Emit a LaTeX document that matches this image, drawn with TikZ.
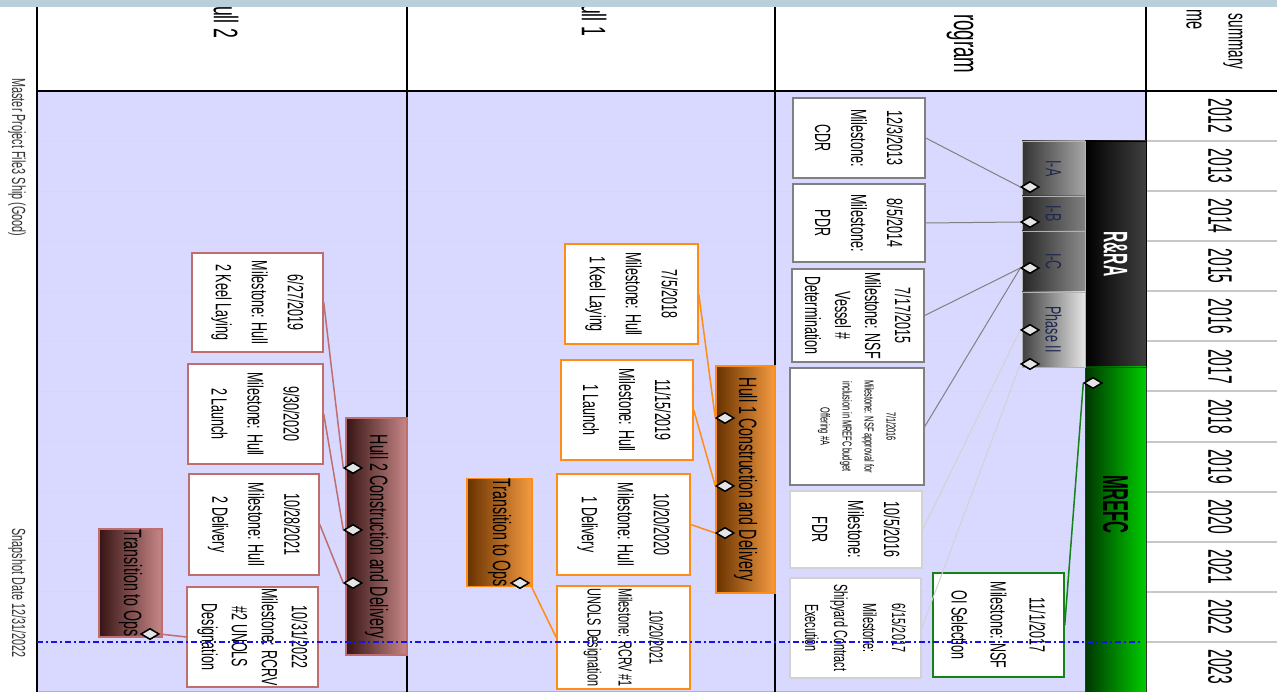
\documentclass[tikz,border=0pt]{standalone}
\usepackage{fontspec}
\setmainfont[FakeStretch=0.57]{Liberation Sans}
\newfontfamily\yearfont[FakeStretch=0.46]{Liberation Sans}
\newfontfamily\headfont[FakeStretch=0.52]{Liberation Sans}
\usetikzlibrary{positioning}
\usetikzlibrary{shapes.geometric}

\definecolor{lavender}{RGB}{217,217,255}
\definecolor{topband}{RGB}{185,208,218}
\definecolor{gridtan}{RGB}{222,218,205}
\definecolor{yeargrid}{RGB}{200,200,200}
\definecolor{hullorange}{RGB}{255,140,20}
\definecolor{hullrose}{RGB}{190,110,110}
\definecolor{msgreen}{RGB}{20,130,20}
\definecolor{labelnavy}{RGB}{30,40,80}
\definecolor{snapblue}{RGB}{20,20,230}

\tikzset{
  pagesize/.style 2 args={minimum height=#1pt, minimum width=#2pt},
  msbox/.style={draw=gray, fill=white, line width=1.5pt, rotate=-90, align=center,
    inner sep=0pt, font=\fontsize{22}{36}\selectfont},
  fourline/.style={font=\fontsize{22}{30}\selectfont},
  bar/.style={draw, rotate=-90, inner sep=0pt, font=\fontsize{25}{30}\selectfont},
  phasebar/.style={bar, draw=gray!60, line width=0.8pt, text=labelnavy,
    font=\fontsize{22}{26}\selectfont},
  hull1shade/.style={bar, draw=hullorange, line width=1.5pt,
    left color={rgb,255:red,105;green,50;blue,0}, right color={rgb,255:red,245;green,155;blue,65}},
  hull2shade/.style={bar, draw=hullrose, line width=1.5pt,
    left color={rgb,255:red,55;green,20;blue,20}, right color={rgb,255:red,200;green,135;blue,135}},
  msdia/.style={diamond, draw=black, fill=gray!20, line width=1.4pt,
    minimum width=18pt, minimum height=11pt, inner sep=0pt},
  yearlbl/.style={rotate=-90, font=\yearfont\fontsize{34}{34}\selectfont},
  headtxt/.style={rotate=-90, anchor=east, font=\headfont\fontsize{34}{34}\selectfont},
  sidetxt/.style={rotate=-90, anchor=west, text=black!80, font=\fontsize{19}{19}\selectfont},
  link/.style={draw=gray, line width=1pt},
}

\begin{document}
\begin{tikzpicture}[x=1pt, y=-1pt]
\useasboundingbox (0,0) rectangle (1277,692);

% Background
\fill[white] (0,0) rectangle (1277,692);
\fill[lavender] (37,91) rectangle (1146,692);

% Grid lines
\foreach \i in {1,...,11} {
  \draw[gridtan, line width=1pt] (37,{91+50.08*\i}) -- (1146,{91+50.08*\i});
  \draw[yeargrid, line width=2pt] (1146,{91+50.08*\i}) -- (1277,{91+50.08*\i});
}
\draw[gray!60, line width=1pt] (37,691) -- (1146,691);

% Columns
\foreach \cx in {37,407,775,1146}
  \draw[line width=2pt] (\cx,7) -- (\cx,692);
\draw[line width=2pt] (37,91) -- (1277,91);

% Headers
\node[headtxt] (hdrhull2) at (226,42) {ull 2};
\node[headtxt] (hdrhull1) at (594,40) {ull 1};
\node[headtxt, font=\headfont\fontsize{36}{36}\selectfont] (hdrprog) at (960,77) {rogram};
\node[headtxt, font=\headfont\fontsize{26}{26}\selectfont] (hdrsum) at (1233,73) {summary};
\node[headtxt, font=\headfont\fontsize{28}{28}\selectfont] (hdrtime) at (1194,33) {me};

% Side texts
\node[sidetxt] (projname) at (17,75) {Master Project File3 Ship (Good)};
\node[sidetxt] (snapdate) at (17,525) {Snapshot Date 12/31/2022};

% Years
\foreach \yr [count=\i from 0] in {2012,...,2023}
  \node[yearlbl] (yr\yr) at (1220,{116+50.08*\i}) {\yr};

% Program bars
\node[bar, pagesize={61}{226}, draw=black, text=white, font=\yearfont\bfseries\fontsize{34}{34}\selectfont,
  left color=black, right color=black!75] (rra) at (1115.5,254) {R\&RA};
\node[bar, pagesize={61}{325}, draw=black!80, font=\yearfont\bfseries\fontsize{36}{36}\selectfont,
  left color={rgb,255:red,0;green,55;blue,0}, right color={rgb,255:red,0;green,205;blue,0}] (mrefc) at (1115.5,529.5)
  {MREFC\hspace*{50pt}};
\node[phasebar, pagesize={63}{55}, left color=black!80, right color=black!35] (ia) at (1053.5,168.5) {I-A};
\node[phasebar, pagesize={63}{35}, left color=black!85, right color=black!50] (ib) at (1053.5,213.5) {I-B};
\node[phasebar, pagesize={63}{61}, left color=black!85, right color=black!45] (ic) at (1053.5,261.5) {I-C};
\node[phasebar, pagesize={63}{75}, left color=black!75, right color=black!10] (ph2) at (1053.5,329.5) {Phase II};

% Hull bars
\node[hull1shade, pagesize={59}{227}] (hull1bar) at (745.5,479.5) {Hull 1 Construction and Delivery};
\node[hull1shade, pagesize={65}{101}] (hull1ops) at (499.5,532.5) {Transition to Ops};
\node[hull2shade, pagesize={61}{237}] (hull2bar) at (376.5,536.5) {Hull 2 Construction and Delivery};
\node[hull2shade, pagesize={63}{102}] (hull2ops) at (130.5,583) {Transition to Ops};

% Program milestones
\node[msbox, pagesize={132}{80}] (cdr) at (859,138) {12/3/2013\\Milestone:\\CDR};
\node[msbox, pagesize={132}{78}] (pdr) at (859,223) {8/5/2014\\Milestone:\\PDR};
\node[msbox, fourline, pagesize={132}{93}] (vessel) at (858,315.5) {7/17/2015\\Milestone: NSF\\Vessel \#\\Determination};
\node[msbox, pagesize={134}{117}, font=\fontsize{13}{22}\selectfont] (budget) at (857,426.5)
  {7/1/2016\\Milestone: NSF approval for\\inclusion in MREFC budget\\Offering \#A};
\node[msbox, draw=gray!35, pagesize={132}{77}] (fdr) at (856,529.5) {10/5/2016\\Milestone:\\FDR};
\node[msbox, draw=gray!35, pagesize={131}{100}, font=\fontsize{19}{29}\selectfont] (yard) at (855.5,628)
  {6/15/2017\\Milestone:\\Shipyard Contract\\Execution};
\node[msbox, draw=msgreen, pagesize={131}{104}, font=\fontsize{22}{39}\selectfont] (oisel) at (998.5,625)
  {11/1/2017\\Milestone: NSF\\OI Selection};

% Hull 1 milestones
\node[msbox, draw=hullorange, pagesize={133}{100}] (hull1keel) at (631.5,294) {7/5/2018\\Milestone: Hull\\1 Keel Laying};
\node[msbox, draw=hullorange, pagesize={132}{100}] (hull1launch) at (627,410) {11/15/2019\\Milestone: Hull\\1 Launch};
\node[msbox, draw=hullorange, pagesize={133}{101}] (hull1deliv) at (623.5,524.5) {10/20/2020\\Milestone: Hull\\1 Delivery};
\node[msbox, draw=hullorange, pagesize={133}{103}, font=\fontsize{19}{31}\selectfont] (hull1unols) at (623.5,637.5)
  {10/20/2021\\Milestone: RCRV \#1\\UNOLS Designation};

% Hull 2 milestones
\node[msbox, draw=hullrose, pagesize={131}{99}] (hull2keel) at (257.5,302.5) {6/27/2019\\Milestone: Hull\\2 Keel Laying};
\node[msbox, draw=hullrose, pagesize={135}{100}] (hull2launch) at (255.5,414) {9/30/2020\\Milestone: Hull\\2 Launch};
\node[msbox, draw=hullrose, pagesize={130}{101}] (hull2deliv) at (254,524.5) {10/28/2021\\Milestone: Hull\\2 Delivery};
\node[msbox, fourline, draw=hullrose, pagesize={131}{100}] (hull2unols) at (252.5,637)
  {10/31/2022\\Milestone: RCRV\\\#2 UNOLS\\Designation};

% Diamonds
\node[msdia] (dIA) at (1030,187) {};
\node[msdia] (dIB) at (1030,222) {};
\node[msdia] (dIC) at (1030,268) {};
\node[msdia] (dPa) at (1030,330) {};
\node[msdia] (dPb) at (1030,364) {};
\node[msdia] (dM) at (1093,383) {};
\node[msdia] (dH1a) at (725,418) {};
\node[msdia] (dH1b) at (725,486) {};
\node[msdia] (dH1c) at (725,533) {};
\node[msdia] (dH1o) at (520,583) {};
\node[msdia] (dH2a) at (353,468) {};
\node[msdia] (dH2b) at (353,530) {};
\node[msdia] (dH2c) at (353,583) {};
\node[msdia] (dH2o) at (150,634) {};

% Connectors
\draw[link] (cdr.north) -- (dIA.west);
\draw[link] (pdr.north) -- (dIB.west);
\draw[link] (vessel.north) -- (dIC.west);
\draw[link] (budget.north) -- (dIC.west);
\draw[link, draw=gray!35] (fdr.north) -- (dPa.west);
\draw[link, draw=gray!35] (yard.north) -- (dPb.west);
\draw[link, draw=msgreen, line width=1.5pt] (oisel.north) -- (dM.west);
\draw[link, draw=hullorange, line width=1.5pt] (hull1keel.north) -- (dH1a.west);
\draw[link, draw=hullorange, line width=1.5pt] (hull1launch.north) -- (dH1b.west);
\draw[link, draw=hullorange, line width=1.5pt] (hull1deliv.north) -- (dH1c.west);
\draw[link, draw=hullorange, line width=1.5pt] (dH1o.east) -- (hull1unols.south);
\draw[link, draw=hullrose, line width=1.5pt] (hull2keel.north) -- (dH2a.west);
\draw[link, draw=hullrose, line width=1.5pt] (hull2launch.north) -- (dH2b.west);
\draw[link, draw=hullrose, line width=1.5pt] (hull2deliv.north) -- (dH2c.west);
\draw[link, draw=hullrose, line width=1.5pt] (dH2o.east) -- (hull2unols.south);

% Redraw diamonds on top
\foreach \d in {dIA,dIB,dIC,dPa,dPb,dM,dH1a,dH1b,dH1c,dH1o,dH2a,dH2b,dH2c,dH2o}
  \node[msdia] at (\d) {};

% Snapshot line
\draw[snapblue, line width=1.8pt, dash pattern=on 6pt off 3pt on 2pt off 3pt] (37,642) -- (1140,642);

% Top band
\fill[topband] (0,0) rectangle (1277,7);
\end{tikzpicture}
\end{document}
